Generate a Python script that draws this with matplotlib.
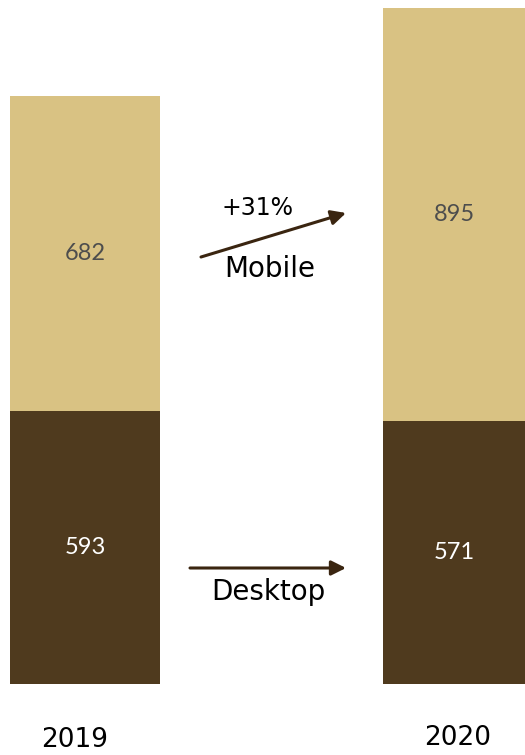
#!/usr/bin/env python3
import matplotlib
matplotlib.use("Agg")
import matplotlib.pyplot as plt

years = ["2019", "2020"]
desktop = [593, 571]
mobile = [682, 895]
growth_label = "+31%"

W, H = 525, 755
fig = plt.figure(figsize=(W / 100, H / 100), dpi=100)
ax = fig.add_axes([0, 0, 1, 1])
ax.set_xlim(0, W)
ax.set_ylim(-153.9, 1483.1)
ax.axis("off")

dark = "#4f3a1e"
light = "#d9c283"
xpos = [85, 454]
widths = [150, 142]

ax.bar(xpos, desktop, width=widths, color=dark)
ax.bar(xpos, mobile, width=widths, bottom=desktop, color=light)

for x, d, m in zip(xpos, desktop, mobile):
    ax.text(x, d / 2, str(d), ha="center", va="center", fontsize=17,
            color="white", family=["Lato", "DejaVu Sans"])
    ax.text(x, d + m / 2, str(m), ha="center", va="center", fontsize=17,
            color="#4d4d4d", family=["Lato", "DejaVu Sans"])

# pixel coords (from top-left) -> figure fraction
def fpos(px, py):
    return (px / W, 1 - py / H)

fig.text(*fpos(75, 740), years[0], ha="center", va="center", fontsize=19)
fig.text(*fpos(458, 738), years[1], ha="center", va="center", fontsize=19)

arrow_col = "#3a2510"
ax.annotate("", xy=fpos(346, 213), xytext=fpos(201, 257),
            xycoords="figure fraction", textcoords="figure fraction",
            arrowprops=dict(arrowstyle="-|>", color=arrow_col, lw=2.2,
                            mutation_scale=22, shrinkA=0, shrinkB=0))
ax.annotate("", xy=fpos(346, 568), xytext=fpos(190, 568),
            xycoords="figure fraction", textcoords="figure fraction",
            arrowprops=dict(arrowstyle="-|>", color=arrow_col, lw=2.2,
                            mutation_scale=22, shrinkA=0, shrinkB=0))

fig.text(*fpos(257, 208), growth_label, ha="center", va="center", fontsize=17)
fig.text(*fpos(270, 269), "Mobile", ha="center", va="center", fontsize=20)
fig.text(*fpos(268, 592), "Desktop", ha="center", va="center", fontsize=20)

fig.savefig("out.png", dpi=100)
